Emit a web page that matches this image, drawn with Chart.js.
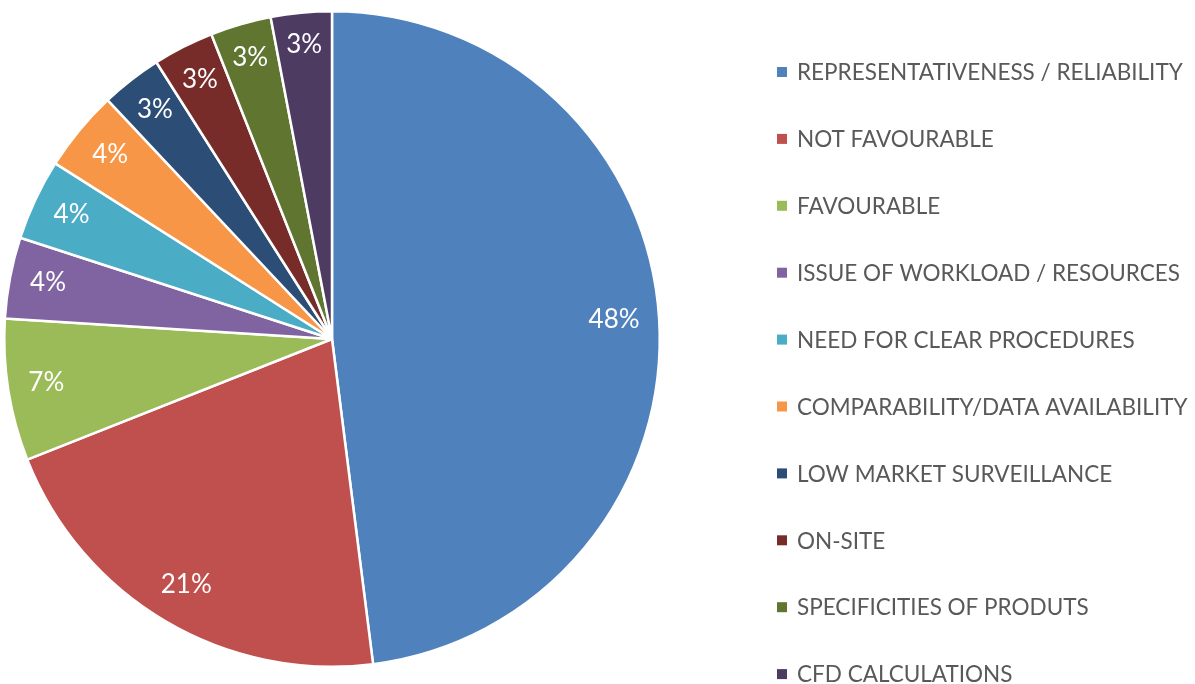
<!DOCTYPE html>
<html>
<head>
<meta charset="utf-8">
<script src="https://cdn.jsdelivr.net/npm/chart.js@4.4.1/dist/chart.umd.min.js"></script>
<style>
  html, body { margin: 0; padding: 0; background: #ffffff; }
  #wrap { position: relative; width: 1195px; height: 684px; }
</style>
</head>
<body>
<div id="wrap"><canvas id="c" width="1195" height="684"></canvas></div>
<script>
const categories = [
  "REPRESENTATIVENESS / RELIABILITY",
  "NOT FAVOURABLE",
  "FAVOURABLE",
  "ISSUE OF WORKLOAD / RESOURCES",
  "NEED FOR CLEAR PROCEDURES",
  "COMPARABILITY/DATA AVAILABILITY",
  "LOW MARKET SURVEILLANCE",
  "ON-SITE",
  "SPECIFICITIES OF PRODUTS",
  "CFD CALCULATIONS"
];
const shares = [48, 21, 7, 4, 4, 4, 3, 3, 3, 3];
const sliceColors = [
  "#4F81BD", "#C0504D", "#9BBB59", "#8064A2", "#4BACC6",
  "#F79646", "#2C4D75", "#772C2A", "#5F7530", "#4D3B62"
];

const LABEL_FONT = "26px Lato";
const LEGEND_FONT = "22.5px Lato";

const sliceLabels = {
  id: "sliceLabels",
  afterDatasetsDraw(chart) {
    const ctx = chart.ctx;
    const meta = chart.getDatasetMeta(0);
    ctx.save();
    ctx.font = LABEL_FONT;
    ctx.fillStyle = "#ffffff";
    ctx.textAlign = "center";
    ctx.textBaseline = "middle";
    meta.data.forEach((arc, i) => {
      const p = arc.getProps(["x", "y", "startAngle", "endAngle", "outerRadius"], true);
      const mid = (p.startAngle + p.endAngle) / 2;
      const txt = chart.data.datasets[0].data[i] + "%";
      const w = ctx.measureText(txt).width;
      const h = 22;
      const dx = Math.cos(mid), dy = Math.sin(mid);
      const ext = Math.abs(dx) * w / 2 + Math.abs(dy) * h / 2;
      const d = p.outerRadius - 19 - ext;
      ctx.fillText(txt, p.x + dx * d, p.y + dy * d - 3 * Math.abs(dx) + 1);
    });
    ctx.restore();
  }
};

const sideLegend = {
  id: "sideLegend",
  afterDraw(chart) {
    const ctx = chart.ctx;
    const labels = chart.data.labels;
    const colors = chart.data.datasets[0].backgroundColor;
    const x0 = 777, y0 = 72, step = 66.9, box = 10;
    ctx.save();
    ctx.font = LEGEND_FONT;
    ctx.textBaseline = "middle";
    ctx.textAlign = "left";
    labels.forEach((lab, i) => {
      const y = y0 + i * step;
      ctx.fillStyle = colors[i];
      ctx.fillRect(x0, y - box / 2, box, box);
      ctx.fillStyle = "#595959";
      ctx.fillText(lab, x0 + 20, y + 1);
    });
    ctx.restore();
  }
};

new Chart(document.getElementById("c"), {
  type: "pie",
  data: {
    labels: categories,
    datasets: [{
      data: shares,
      backgroundColor: sliceColors,
      borderColor: "#ffffff",
      borderWidth: 2.5
    }]
  },
  options: {
    responsive: false,
    animation: false,
    events: [],
    layout: { padding: { left: 3, top: 10, bottom: 16, right: 534 } },
    plugins: {
      legend: { display: false },
      tooltip: { enabled: false }
    }
  },
  plugins: [sliceLabels, sideLegend]
});
</script>
</body>
</html>
